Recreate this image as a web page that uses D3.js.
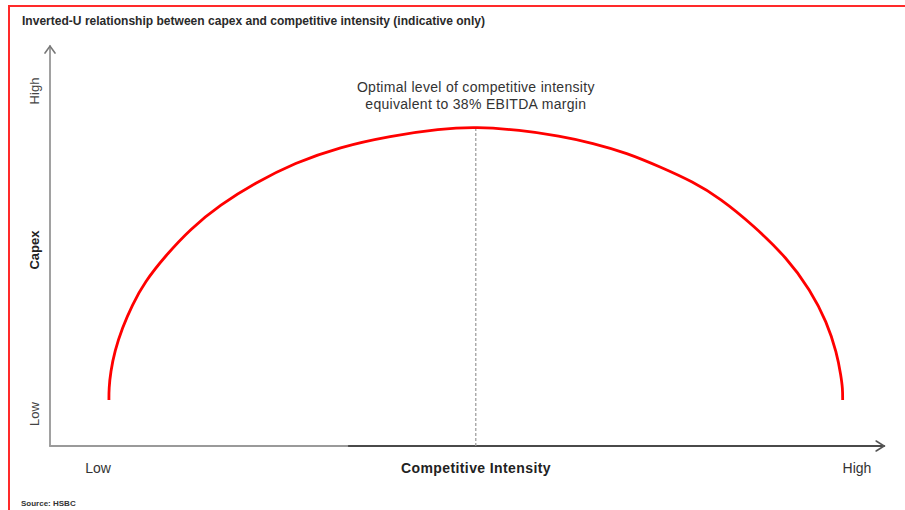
<!DOCTYPE html>
<html>
<head>
<meta charset="utf-8">
<script src="https://cdn.jsdelivr.net/npm/d3@7"></script>
<style>
  html, body { margin: 0; padding: 0; background: #fff; }
  svg { display: block; font-family: "Liberation Sans", Arial, sans-serif; }
</style>
</head>
<body>
<div id="chart"></div>
<script>
// Values (index units, 0-100 on both axes)
const intensity = [7.1, 7.1, 7.3, 7.8, 8.7, 9.9, 11.4, 13.9, 16.9, 20.5, 24.7, 29.5, 34.9, 41.0, 47.0, 51.3,
    56.6, 61.4, 65.4, 69.5, 73.5, 77.5, 80.7, 84.7, 88.8, 91.6, 93.6, 94.8, 95.3, 95.5, 95.5];
const capex = [11.6, 14.5, 18.7, 24.0, 29.8, 35.6, 41.4, 48.0, 54.8, 60.9, 66.4, 71.5, 75.5, 78.3, 80.1, 80.6,
    79.8, 78.3, 76.5, 74.0, 70.5, 66.7, 62.6, 55.8, 47.5, 39.4, 31.3, 23.5, 17.7, 14.5, 11.6];
const optimumX = 51.3;
const optimumY = 80.3;

const yLabels = ["Low", "High"];
const xLabels = ["Low", "High"];
const title = "Inverted-U relationship between capex and competitive intensity (indicative only)";
const noteLines = ["Optimal level of competitive intensity", "equivalent to 38% EBITDA margin"];
const source = "Source: HSBC";

const width = 905, height = 510;

const svg = d3.select("#chart").append("svg")
    .attr("width", width)
    .attr("height", height);

// Red frame (top + left)
svg.append("path")
    .attr("d", `M9,${height} L9,6 L${width},6`)
    .attr("fill", "none")
    .attr("stroke", "#ff2a2a")
    .attr("stroke-width", 2);

svg.append("text")
    .attr("x", 22)
    .attr("y", 25)
    .attr("font-size", 12)
    .attr("font-weight", "bold")
    .attr("fill", "#2a2a2a")
    .attr("textLength", 463)
    .attr("lengthAdjust", "spacingAndGlyphs")
    .text(title);

const x = d3.scaleLinear().domain([0, 100]).range([50, 880]);
const y = d3.scaleLinear().domain([0, 100]).range([446, 50]);

// Axes with open arrow heads
const axisG = svg.append("g").attr("fill", "none").attr("stroke-linecap", "round");
axisG.append("line")
    .attr("x1", x(0)).attr("y1", y(0))
    .attr("x2", x(0)).attr("y2", y(101))
    .attr("stroke", "#8a8a8a").attr("stroke-width", 1.6);
axisG.append("path")
    .attr("d", `M${x(0) - 5},${y(101) + 7} L${x(0)},${y(101)} L${x(0) + 5},${y(101) + 7}`)
    .attr("stroke", "#777").attr("stroke-width", 1.6);

axisG.append("line")
    .attr("x1", x(0)).attr("y1", y(0))
    .attr("x2", x(36)).attr("y2", y(0))
    .attr("stroke", "#9a9a9a").attr("stroke-width", 2);
axisG.append("line")
    .attr("x1", x(36)).attr("y1", y(0))
    .attr("x2", x(100.5)).attr("y2", y(0))
    .attr("stroke", "#4a4a4a").attr("stroke-width", 2);
axisG.append("path")
    .attr("d", `M${x(100.5) - 8},${y(0) - 5} L${x(100.5)},${y(0)} L${x(100.5) - 8},${y(0) + 5}`)
    .attr("stroke", "#555").attr("stroke-width", 1.6);

// Dashed marker at the optimum
svg.append("line")
    .attr("x1", x(optimumX)).attr("y1", y(optimumY))
    .attr("x2", x(optimumX)).attr("y2", y(0))
    .attr("stroke", "#999")
    .attr("stroke-width", 1.2)
    .attr("stroke-dasharray", "3,2");

// Curve (B-spline smooths out reading noise)
const pts = intensity.map((d, i) => [d, capex[i]]);
const line = d3.line()
    .x(d => x(d[0]))
    .y(d => y(d[1]))
    .curve(d3.curveBasis);

svg.append("path")
    .datum(pts)
    .attr("d", line)
    .attr("fill", "none")
    .attr("stroke", "#ff0000")
    .attr("stroke-width", 2.8);

// Annotation
svg.append("text")
    .attr("text-anchor", "middle")
    .attr("font-size", 14)
    .attr("fill", "#333")
    .attr("letter-spacing", 0.3)
    .selectAll("tspan")
    .data(noteLines)
    .join("tspan")
    .attr("x", x(optimumX))
    .attr("y", (d, i) => 92 + i * 17)
    .text(d => d);

// Y-axis labels (rotated)
const yLabelPos = [414, 91];
yLabels.forEach((lbl, i) => {
    svg.append("text")
        .attr("transform", `translate(39,${yLabelPos[i]}) rotate(-90)`)
        .attr("text-anchor", "middle")
        .attr("font-size", 13)
        .attr("fill", "#444")
        .text(lbl);
});
svg.append("text")
    .attr("transform", "translate(39,250) rotate(-90)")
    .attr("text-anchor", "middle")
    .attr("font-size", 13)
    .attr("font-weight", "bold")
    .attr("fill", "#222")
    .text("Capex");

// X-axis labels
const xLabelPos = [98, 857];
xLabels.forEach((lbl, i) => {
    svg.append("text")
        .attr("x", xLabelPos[i])
        .attr("y", 473)
        .attr("text-anchor", "middle")
        .attr("font-size", 14)
        .attr("fill", "#333")
        .text(lbl);
});
svg.append("text")
    .attr("x", 476)
    .attr("y", 473)
    .attr("text-anchor", "middle")
    .attr("font-size", 14)
    .attr("font-weight", "bold")
    .attr("fill", "#222")
    .attr("letter-spacing", 0.4)
    .text("Competitive Intensity");

svg.append("text")
    .attr("x", 21)
    .attr("y", 506)
    .attr("font-size", 8)
    .attr("font-weight", "bold")
    .attr("fill", "#333")
    .text(source);
</script>
</body>
</html>
